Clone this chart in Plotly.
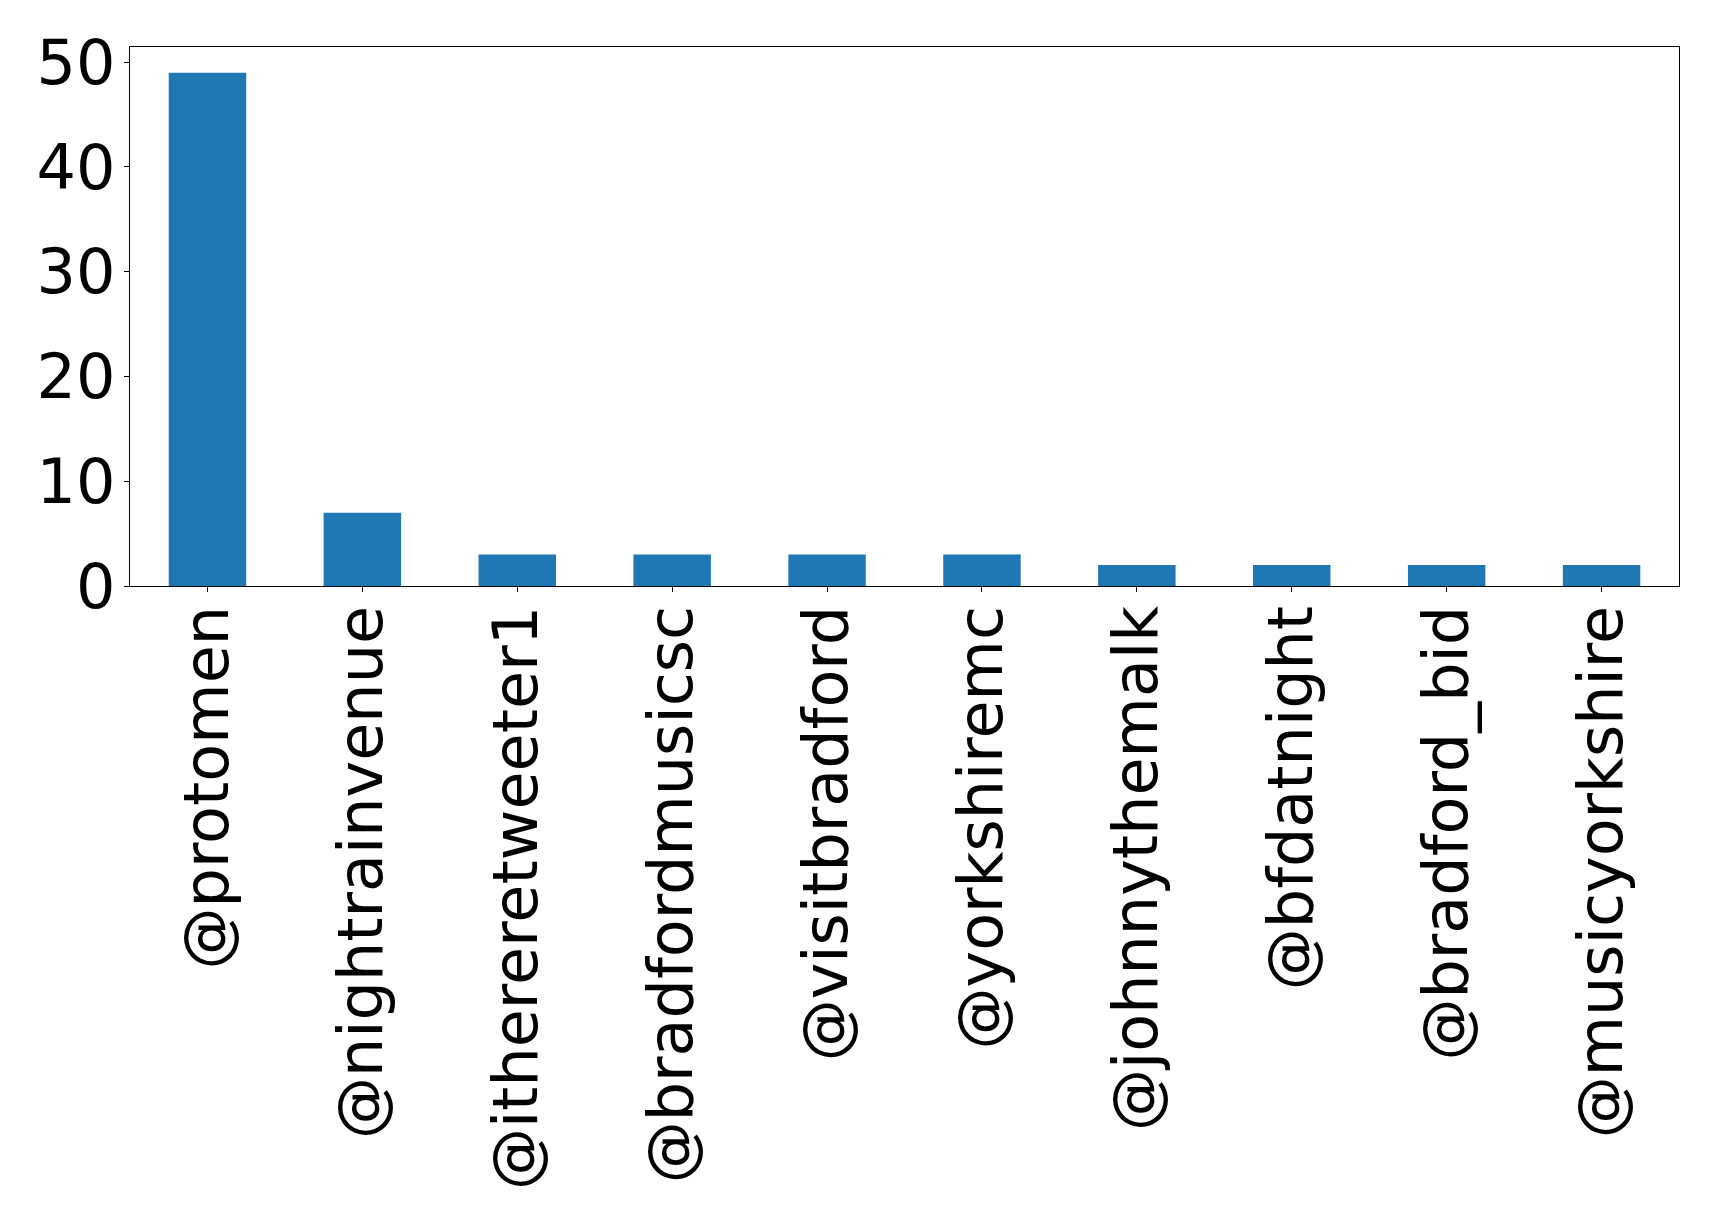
import plotly.graph_objects as go

categories = ["@protomen", "@nightrainvenue", "@ithereretweeter1", "@bradfordmusicsc",
              "@visitbradford", "@yorkshiremc", "@johnnythemalk", "@bfdatnight",
              "@bradford_bid", "@musicyorkshire"]
counts = [49, 7, 3, 3, 3, 3, 2, 2, 2, 2]
y_ticks = [0, 10, 20, 30, 40, 50]

fig = go.Figure(go.Bar(x=categories, y=counts, width=0.5, marker_color="#1f77b4",
                       marker_line_width=0))

axis_common = dict(showline=True, linecolor="black", linewidth=1.2, mirror=True,
                   ticks="outside", ticklen=5, tickwidth=1, tickcolor="black",
                   showgrid=False, zeroline=False,
                   tickfont=dict(family="DejaVu Sans", size=62, color="black"))

fig.update_layout(
    width=1711, height=1210,
    margin=dict(l=122, r=40, t=39, b=632, autoexpand=False),
    plot_bgcolor="white", paper_bgcolor="white",
    showlegend=False,
    xaxis=dict(range=[-0.5, 9.5], tickangle=-90, ticklabelstandoff=-11, **axis_common),
    yaxis=dict(range=[0, 51.45], tickvals=y_ticks, ticklabelstandoff=-4, **axis_common),
)

fig.write_html("out.html")
